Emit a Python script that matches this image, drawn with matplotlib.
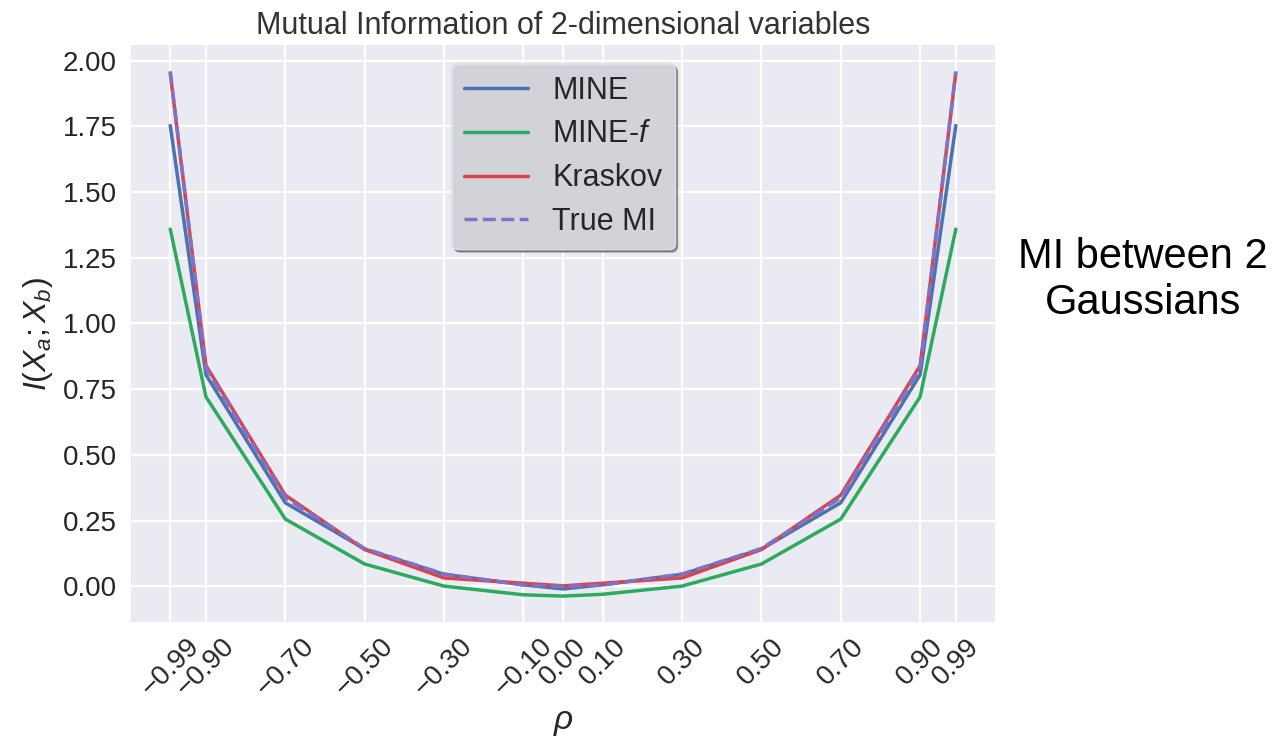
import matplotlib
matplotlib.use("Agg")
import matplotlib.pyplot as plt
import numpy as np

plt.style.use("seaborn-v0_8-darkgrid")
plt.rcParams["font.family"] = ["Liberation Sans", "DejaVu Sans"]
plt.rcParams["mathtext.fontset"] = "custom"
plt.rcParams["mathtext.it"] = "Liberation Sans:italic"
plt.rcParams["mathtext.rm"] = "Liberation Sans"
plt.rcParams["grid.linewidth"] = 1.6

# valeurs
rho = [-0.99, -0.9, -0.7, -0.5, -0.3, -0.1, 0.0, 0.1, 0.3, 0.5, 0.7, 0.9, 0.99]
rho_labels = ["−0.99", "−0.90", "−0.70", "−0.50", "−0.30", "−0.10", "0.00",
              "0.10", "0.30", "0.50", "0.70", "0.90", "0.99"]
mine = [1.753, 0.805, 0.318, 0.142, 0.046, 0.006, -0.010, 0.006, 0.046, 0.142, 0.318, 0.805, 1.753]
mine_f = [1.359, 0.721, 0.256, 0.085, 0.001, -0.032, -0.037, -0.030, 0.001, 0.085, 0.256, 0.721, 1.359]
kraskov = [1.952, 0.840, 0.347, 0.140, 0.032, 0.012, 0.002, 0.012, 0.032, 0.140, 0.347, 0.840, 1.952]
true_mi = [1.959, 0.830, 0.337, 0.144, 0.047, 0.005, 0.0, 0.005, 0.047, 0.144, 0.337, 0.830, 1.959]

fig = plt.figure(figsize=(12.84, 7.40), dpi=100)
ax = fig.add_axes([0.102, 0.159, 0.673, 0.780])

ax.plot(rho, mine, color="#4C72B0", lw=2.5, label="MINE")
ax.plot(rho, mine_f, color="#2EAA5E", lw=2.5, label="MINE-$f$")
ax.plot(rho, kraskov, color="#D9434E", lw=2.5, label="Kraskov")
ax.plot(rho, true_mi, color="#8172C8", lw=2.5, ls="--", label="True MI")

ax.set_xticks(rho)
ax.set_xticklabels(rho_labels, rotation=45, fontsize=20)
ax.tick_params(axis="y", labelsize=20, pad=10)
ax.tick_params(axis="x", pad=8)
ax.set_title("Mutual Information of 2-dimensional variables", fontsize=22,
             pad=8, color="#333333")
ax.set_xlabel(r"$\rho$", fontsize=24, labelpad=4)
ax.set_ylabel(r"$I(X_a;X_b)$", fontsize=23, labelpad=6)

ax.legend(loc="upper center", frameon=True, shadow=True, fontsize=22,
          facecolor="#DDDDE5", framealpha=0.85, edgecolor="#E2E2EA",
          borderaxespad=0.6, handlelength=2.1, labelspacing=0.45)

fig.text(0.890, 0.622, "MI between 2\nGaussians", fontsize=30, ha="center",
         va="center", linespacing=1.2, color="black")

fig.savefig("out.png", dpi=100)
